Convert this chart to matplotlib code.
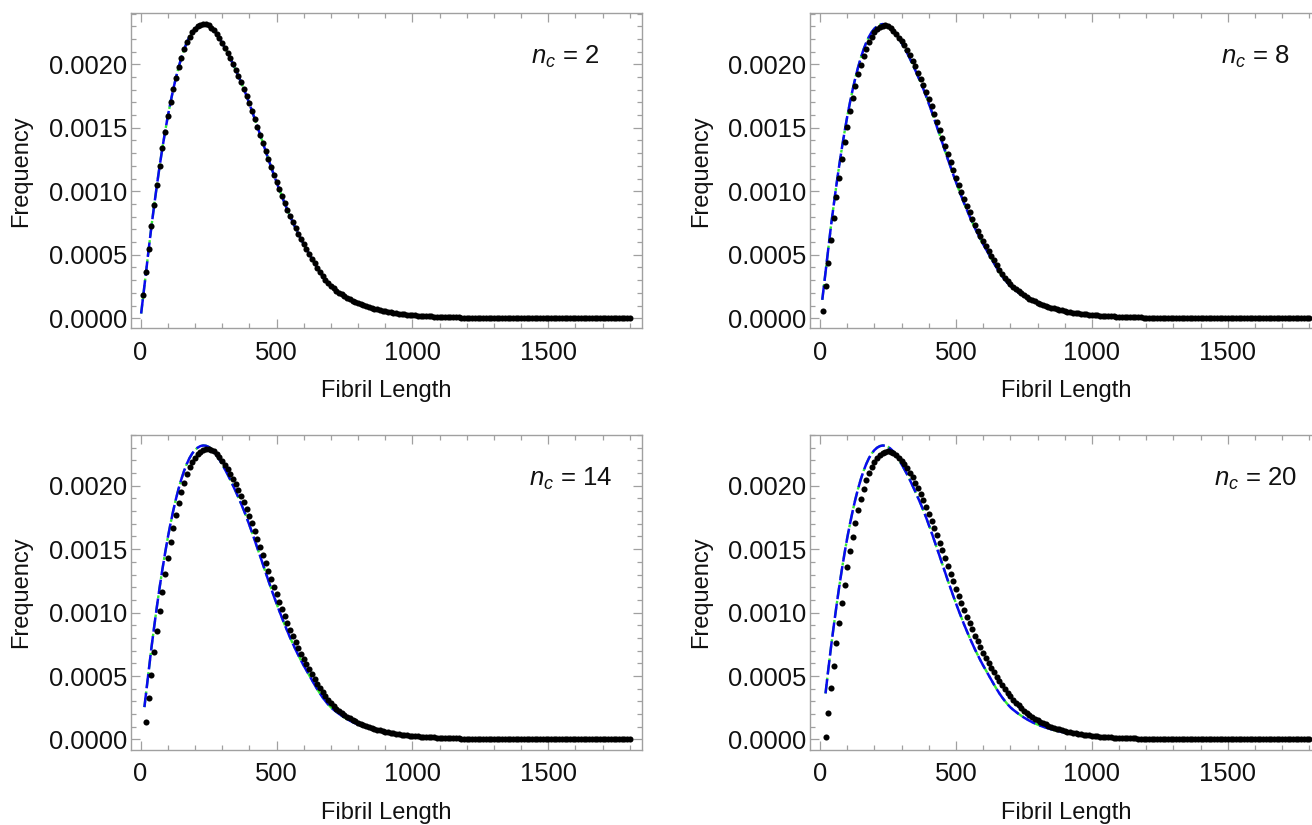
import matplotlib
matplotlib.use('Agg')
import matplotlib.pyplot as plt
import numpy as np
from matplotlib.ticker import MultipleLocator, FormatStrFormatter

plt.rcParams['font.family'] = ['Liberation Sans', 'DejaVu Sans']
plt.rcParams['mathtext.fontset'] = 'custom'
plt.rcParams['mathtext.it'] = 'Liberation Sans:italic'
plt.rcParams['mathtext.rm'] = 'Liberation Sans'

# all frequencies below are in units of 1e-6
nc_values = [2, 8, 14, 20]

# fitted curve, x = 0, 10, ..., 1800
fit_x = np.arange(0, 1801, 10)
fit_y = [
    0, 180, 363, 548, 725, 890, 1048, 1198, 1338, 1468,
    1590, 1700, 1802, 1895, 1978, 2052, 2117, 2172, 2218, 2254,
    2281, 2300, 2312, 2317, 2315, 2306, 2290, 2268, 2240, 2206,
    2168, 2130, 2090, 2047, 2002, 1955, 1906, 1857, 1805, 1750,
    1692, 1632, 1570, 1507, 1444, 1380, 1316, 1253, 1191, 1131,
    1072, 1015, 959, 905, 853, 803, 755, 709, 665, 623,
    583, 545, 508, 470, 432, 396, 362, 331, 303, 277,
    254, 235, 218, 202, 187, 173, 160, 148, 137, 127,
    118, 109, 101, 94, 87, 81, 75, 69, 64, 59,
    55, 51, 47, 43, 40, 37, 34, 31, 29, 27,
    25, 23, 21, 19, 18, 16, 15, 14, 13, 12,
    11, 10, 9, 8, 8, 7, 6, 6, 5, 5,
    4, 4, 4, 3, 3, 3, 3, 2, 2, 2,
    2, 2, 2, 1, 1, 1, 1, 1, 1, 1,
    1, 0, 0, 0, 0, 0, 0, 0, 0, 0,
    0, 0, 0, 0, 0, 0, 0, 0, 0, 0,
    0, 0, 0, 0, 0, 0, 0, 0, 0, 0,
    0, 0, 0, 0, 0, 0, 0, 0, 0, 0,
    0,
]
# the fitted curves start at x = n_c
fit_start_y = [37, 145, 255, 363]

# simulated length distributions
dots_x_a = np.arange(10, 1801, 10)
dots_x_b = np.arange(20, 1801, 10)

dots_nc2 = [
    180, 363, 548, 725, 890, 1048, 1198, 1338, 1468, 1590,
    1700, 1802, 1895, 1978, 2052, 2117, 2172, 2218, 2254, 2281,
    2300, 2312, 2317, 2315, 2306, 2290, 2268, 2240, 2206, 2168,
    2130, 2090, 2047, 2002, 1955, 1906, 1857, 1805, 1750, 1692,
    1632, 1570, 1507, 1444, 1380, 1316, 1253, 1191, 1131, 1072,
    1015, 959, 905, 853, 803, 755, 709, 665, 623, 583,
    545, 508, 470, 432, 396, 362, 331, 303, 277, 254,
    235, 218, 202, 187, 173, 160, 148, 137, 127, 118,
    109, 101, 94, 87, 81, 75, 69, 64, 59, 55,
    51, 47, 43, 40, 37, 34, 31, 29, 27, 25,
    23, 21, 19, 18, 16, 15, 14, 13, 12, 11,
    10, 9, 8, 8, 7, 6, 6, 5, 5, 4,
    4, 4, 3, 3, 3, 3, 2, 2, 2, 2,
    2, 2, 1, 1, 1, 1, 1, 1, 1, 1,
    0, 0, 0, 0, 0, 0, 0, 0, 0, 0,
    0, 0, 0, 0, 0, 0, 0, 0, 0, 0,
    0, 0, 0, 0, 0, 0, 0, 0, 0, 0,
    0, 0, 0, 0, 0, 0, 0, 0, 0, 0,
]

dots_nc8 = [
    58, 252, 438, 619, 793, 953, 1102, 1252, 1386, 1509,
    1630, 1735, 1832, 1921, 1997, 2064, 2122, 2172, 2216, 2252,
    2280, 2296, 2305, 2306, 2300, 2287, 2266, 2240, 2210, 2180,
    2150, 2114, 2073, 2029, 1983, 1935, 1886, 1836, 1783, 1727,
    1668, 1607, 1545, 1482, 1418, 1354, 1291, 1228, 1167, 1107,
    1049, 993, 937, 884, 833, 784, 737, 691, 648, 607,
    568, 530, 493, 455, 418, 382, 350, 320, 293, 268,
    246, 228, 212, 196, 181, 168, 155, 143, 133, 123,
    114, 105, 98, 91, 84, 78, 72, 67, 62, 57,
    53, 49, 45, 42, 39, 36, 33, 30, 28, 26,
    24, 22, 20, 19, 17, 16, 15, 14, 13, 12,
    11, 10, 9, 8, 8, 7, 6, 6, 5, 5,
    4, 4, 4, 3, 3, 3, 3, 2, 2, 2,
    2, 2, 2, 1, 1, 1, 1, 1, 1, 1,
    1, 0, 0, 0, 0, 0, 0, 0, 0, 0,
    0, 0, 0, 0, 0, 0, 0, 0, 0, 0,
    0, 0, 0, 0, 0, 0, 0, 0, 0, 0,
    0, 0, 0, 0, 0, 0, 0, 0, 0, 0,
]

dots_nc14 = [
    137, 329, 511, 687, 853, 1013, 1163, 1305, 1434, 1558,
    1666, 1771, 1866, 1947, 2021, 2089, 2145, 2187, 2221, 2248,
    2268, 2282, 2290, 2290, 2284, 2271, 2251, 2225, 2195, 2162,
    2129, 2094, 2056, 2014, 1968, 1920, 1869, 1816, 1761, 1704,
    1644, 1582, 1520, 1457, 1393, 1329, 1266, 1203, 1143, 1084,
    1026, 970, 916, 863, 813, 765, 718, 674, 631, 591,
    553, 515, 478, 441, 405, 371, 340, 311, 285, 262,
    242, 224, 208, 193, 179, 166, 154, 143, 133, 123,
    114, 106, 98, 91, 84, 78, 72, 67, 62, 57,
    53, 49, 46, 42, 39, 36, 34, 31, 29, 27,
    25, 23, 21, 20, 18, 17, 16, 15, 14, 13,
    12, 11, 10, 9, 8, 8, 7, 7, 6, 6,
    5, 5, 5, 4, 4, 4, 3, 3, 3, 3,
    2, 2, 2, 2, 2, 2, 1, 1, 1, 1,
    1, 1, 1, 1, 1, 1, 1, 0, 0, 0,
    0, 0, 0, 0, 0, 0, 0, 0, 0, 0,
    0, 0, 0, 0, 0, 0, 0, 0, 0, 0,
    0, 0, 0, 0, 0, 0, 0, 0, 0,
]

dots_nc20 = [
    21, 211, 404, 580, 757, 918, 1074, 1219, 1356, 1483,
    1599, 1707, 1807, 1897, 1977, 2045, 2102, 2148, 2186, 2216,
    2240, 2257, 2267, 2270, 2266, 2256, 2241, 2221, 2197, 2169,
    2138, 2104, 2066, 2025, 1981, 1935, 1886, 1834, 1780, 1724,
    1667, 1609, 1550, 1490, 1429, 1368, 1307, 1247, 1188, 1131,
    1075, 1021, 968, 917, 867, 819, 773, 728, 685, 644,
    604, 566, 529, 494, 460, 428, 397, 368, 340, 314,
    290, 268, 247, 228, 210, 194, 179, 165, 152, 140,
    129, 119, 110, 101, 93, 86, 79, 73, 67, 62,
    57, 53, 49, 45, 41, 38, 35, 32, 30, 27,
    25, 23, 21, 20, 18, 17, 15, 14, 13, 12,
    11, 10, 9, 9, 8, 7, 7, 6, 6, 5,
    5, 5, 4, 4, 4, 3, 3, 3, 3, 2,
    2, 2, 2, 2, 2, 2, 1, 1, 1, 1,
    1, 1, 1, 1, 1, 1, 1, 1, 1, 1,
    1, 1, 1, 0, 0, 0, 0, 0, 0, 0,
    0, 0, 0, 0, 0, 0, 0, 0, 0, 0,
    0, 0, 0, 0, 0, 0, 0, 0, 0,
]

panels = [
    (dots_x_a, dots_nc2),
    (dots_x_a, dots_nc8),
    (dots_x_b, dots_nc14),
    (dots_x_b, dots_nc20),
]

fig = plt.figure(figsize=(13.12, 8.25), dpi=100)
boxes = [
    (0.0995, 0.6021, 0.3899, 0.3818),
    (0.6174, 0.6021, 0.3899, 0.3818),
    (0.0995, 0.0915, 0.3899, 0.3816),
    (0.6174, 0.0915, 0.3899, 0.3816),
]
label_x = [0.85, 0.87, 0.86, 0.87]
frame_col = '#a0a0a0'
fit_arr = np.array(fit_y) * 1e-6

for i, box in enumerate(boxes):
    ax = fig.add_axes(box)
    nc = nc_values[i]
    dx, dy = panels[i]
    assert len(dx) == len(dy)

    # fit curves from x = n_c
    lx = np.r_[nc, fit_x[fit_x > nc]]
    ly = np.r_[fit_start_y[i] * 1e-6, fit_arr[fit_x > nc]]
    ax.plot(lx, ly, color='#33e833', lw=1.7, linestyle=(0, (4, 1.5, 1.2, 1.5)), zorder=2)
    ax.plot(lx, ly, color='#0a0af0', lw=1.8, linestyle=(0, (5.8, 1.8)), zorder=3)
    ax.plot(dx, np.array(dy) * 1e-6, 'o', color='black', ms=4.4, mew=0, zorder=4)

    ax.set_xlim(-37, 1845)
    ax.set_ylim(-0.000079, 0.002402)
    ax.xaxis.set_major_locator(MultipleLocator(500))
    ax.xaxis.set_minor_locator(MultipleLocator(100))
    ax.yaxis.set_major_locator(MultipleLocator(0.0005))
    ax.yaxis.set_minor_locator(MultipleLocator(0.0001))
    ax.yaxis.set_major_formatter(FormatStrFormatter('%.4f'))
    ax.tick_params(which='both', direction='in', top=True, right=True,
                   color=frame_col, width=0.9, labelsize=18.4, labelcolor='#111111')
    ax.tick_params(which='major', length=6.5)
    ax.tick_params(which='minor', length=3.5)
    ax.tick_params(axis='x', which='major', pad=9.2)
    ax.tick_params(axis='y', which='major', pad=2.5)
    for sp in ax.spines.values():
        sp.set_color(frame_col)
        sp.set_linewidth(1.0)

    ax.set_xlabel('Fibril Length', fontsize=17, labelpad=11, color='#111111')
    ax.set_ylabel('Frequency', fontsize=17, labelpad=12, color='#111111')
    ax.text(label_x[i], 0.86, r'$n_c$ = %d' % nc, transform=ax.transAxes,
            ha='center', va='center', fontsize=18.5, color='#111111')

fig.savefig('out.png', dpi=100)
